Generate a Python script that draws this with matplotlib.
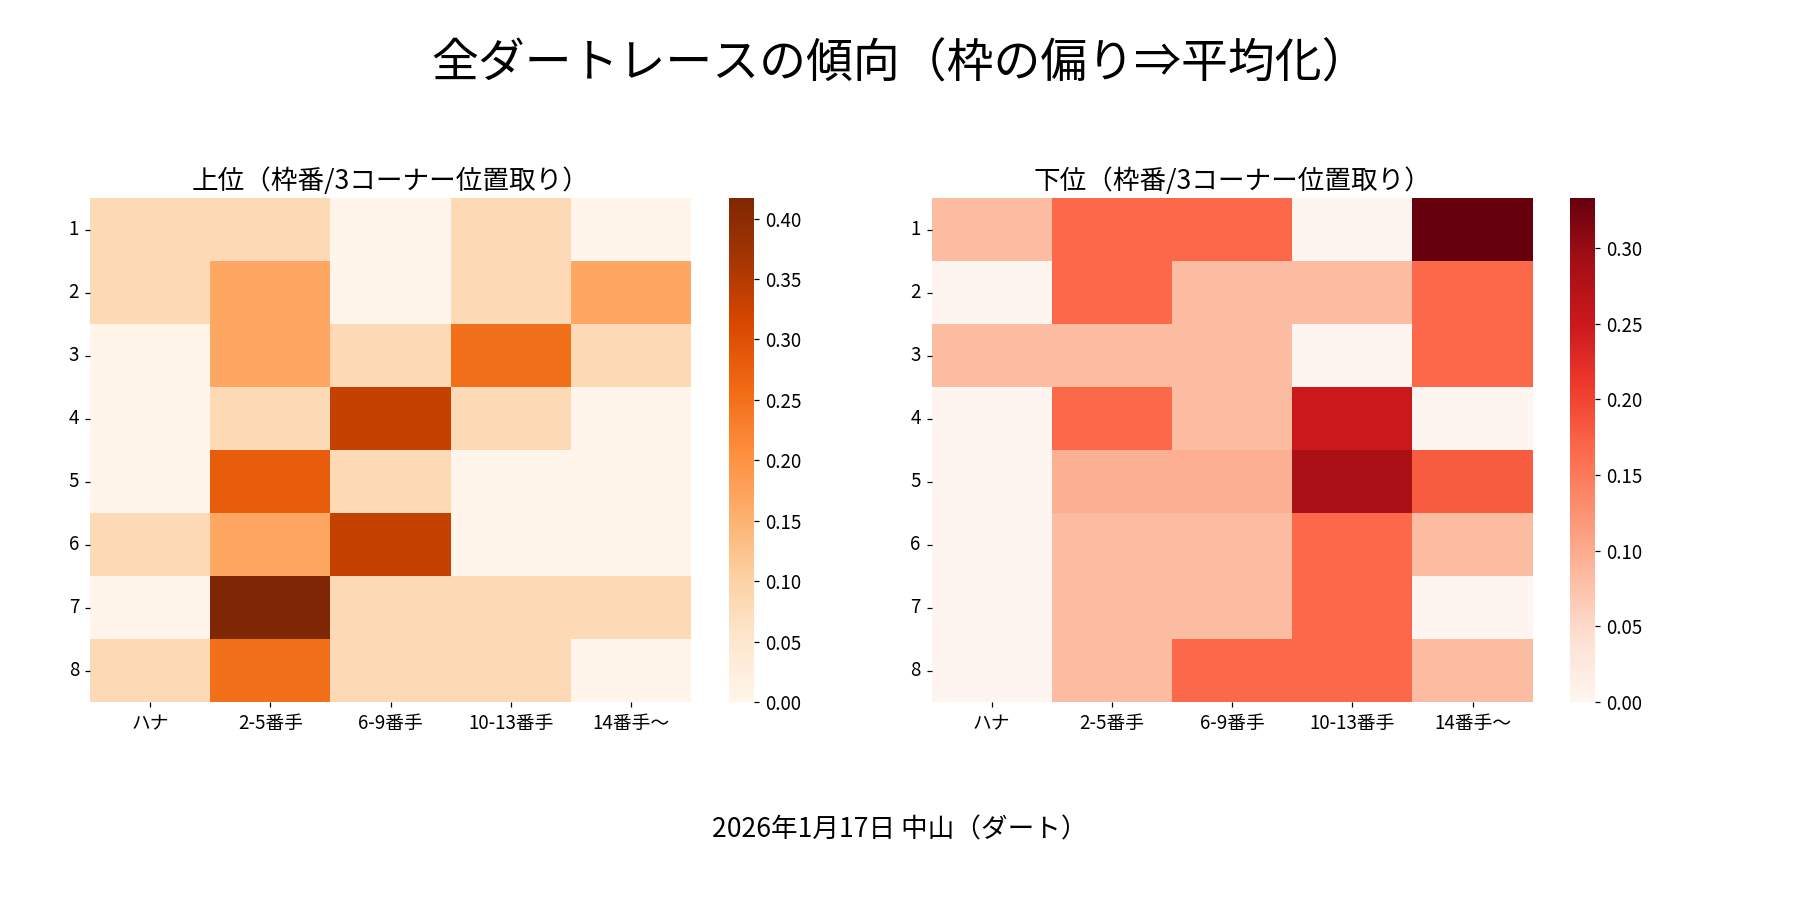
import matplotlib
matplotlib.use("Agg")
import matplotlib.pyplot as plt
import seaborn as sns
import numpy as np

plt.rcParams['font.family'] = ['Noto Sans CJK JP', 'DejaVu Sans']

rows = ["1", "2", "3", "4", "5", "6", "7", "8"]
cols = ["ハナ", "2-5番手", "6-9番手", "10-13番手", "14番手〜"]

upper = [
    [0.083, 0.083, 0.0, 0.083, 0.0],
    [0.083, 0.167, 0.0, 0.083, 0.167],
    [0.0, 0.167, 0.083, 0.25, 0.083],
    [0.0, 0.083, 0.333, 0.083, 0.0],
    [0.0, 0.28, 0.083, 0.0, 0.0],
    [0.083, 0.167, 0.333, 0.0, 0.0],
    [0.0, 0.417, 0.083, 0.083, 0.083],
    [0.083, 0.25, 0.083, 0.083, 0.0],
]
lower = [
    [0.083, 0.167, 0.167, 0.0, 0.333],
    [0.0, 0.167, 0.083, 0.083, 0.167],
    [0.083, 0.083, 0.083, 0.0, 0.167],
    [0.0, 0.167, 0.083, 0.25, 0.0],
    [0.0, 0.095, 0.095, 0.286, 0.18],
    [0.0, 0.083, 0.083, 0.167, 0.083],
    [0.0, 0.083, 0.083, 0.167, 0.0],
    [0.0, 0.083, 0.167, 0.167, 0.083],
]

fig, axes = plt.subplots(1, 2, figsize=(16, 8), dpi=112.5)
fig.subplots_adjust(left=0.05, right=0.935, top=0.78, bottom=0.22, wspace=0.12)

sns.heatmap(np.array(upper), ax=axes[0], cmap="Oranges", xticklabels=cols, yticklabels=rows)
axes[0].set_title("上位（枠番/3コーナー位置取り）", fontsize=17)
sns.heatmap(np.array(lower), ax=axes[1], cmap="Reds", xticklabels=cols, yticklabels=rows)
axes[1].set_title("下位（枠番/3コーナー位置取り）", fontsize=17)
for ax in axes:
    ax.tick_params(axis='y', rotation=0, labelsize=12)
    ax.tick_params(axis='x', rotation=0, labelsize=12)
    ax.collections[0].colorbar.ax.tick_params(labelsize=12)

fig.suptitle("全ダートレースの傾向（枠の偏り⇒平均化）", fontsize=30, y=0.955)
fig.text(0.5, 0.07, "2026年1月17日 中山（ダート）", ha='center', fontsize=17)
fig.savefig("out.png")
